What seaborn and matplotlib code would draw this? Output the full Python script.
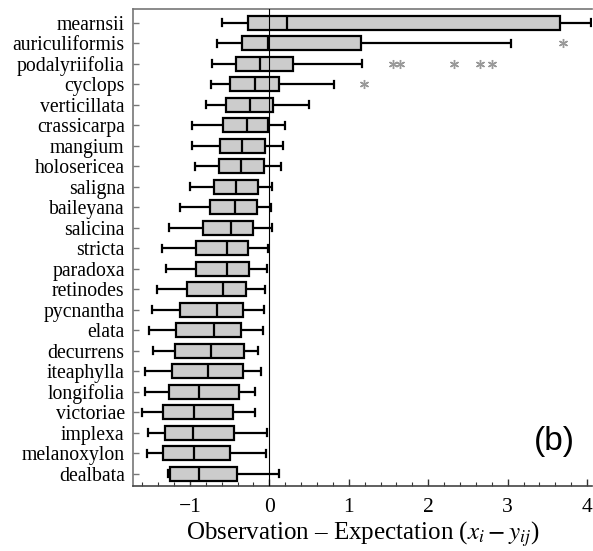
import numpy as np
import pandas as pd
import matplotlib
matplotlib.use("Agg")
import matplotlib.pyplot as plt
from matplotlib.ticker import MultipleLocator
import seaborn as sns

# ---------- data (five-number summaries) ----------
species = ["mearnsii", "auriculiformis", "podalyriifolia", "cyclops", "verticillata",
           "crassicarpa", "mangium", "holosericea", "saligna", "baileyana",
           "salicina", "stricta", "paradoxa", "retinodes", "pycnantha", "elata",
           "decurrens", "iteaphylla", "longifolia", "victoriae", "implexa",
           "melanoxylon", "dealbata"]

whisker_lo = [-0.60, -0.66, -0.72, -0.74, -0.80, -0.975, -0.975, -0.94, -1.00, -1.13,
              -1.27, -1.35, -1.30, -1.42, -1.48, -1.515, -1.47, -1.565, -1.565, -1.60,
              -1.525, -1.54, -1.28]
q1 = [-0.27, -0.35, -0.42, -0.49, -0.54, -0.58, -0.62, -0.635, -0.70, -0.745,
      -0.83, -0.925, -0.93, -1.04, -1.12, -1.18, -1.185, -1.23, -1.26, -1.34,
      -1.31, -1.34, -1.25]
median = [0.22, -0.015, -0.12, -0.18, -0.25, -0.28, -0.34, -0.36, -0.42, -0.43,
          -0.48, -0.53, -0.535, -0.58, -0.66, -0.70, -0.73, -0.77, -0.88, -0.955,
          -0.96, -0.945, -0.88]
q3 = [3.66, 1.15, 0.30, 0.115, 0.05, -0.02, -0.06, -0.065, -0.14, -0.16,
      -0.20, -0.27, -0.26, -0.30, -0.33, -0.355, -0.32, -0.33, -0.38, -0.46,
      -0.44, -0.50, -0.41]
whisker_hi = [4.05, 3.04, 1.17, 0.81, 0.50, 0.195, 0.17, 0.145, 0.035, 0.02,
              0.035, -0.015, -0.03, -0.05, -0.07, -0.08, -0.14, -0.10, -0.18, -0.18,
              -0.035, -0.04, 0.12]
outliers = {"auriculiformis": [3.70],
            "podalyriifolia": [1.56, 1.65, 2.33, 2.65, 2.80],
            "cyclops": [1.19]}

# long-form table whose quartiles / whiskers reproduce the summaries above
k = 10
rows = []
for i, sp in enumerate(species):
    out = outliers.get(sp, [])
    vals = ([whisker_lo[i]] + [q1[i]] * k + [median[i]] * k + [q3[i]] * k
            + [whisker_hi[i]] * (k - len(out)) + out)
    rows += [(sp, v) for v in vals]
df = pd.DataFrame(rows, columns=["species", "value"])

# ---------- plot ----------
plt.rcParams["font.family"] = "Liberation Serif"
plt.rcParams["mathtext.fontset"] = "stix"

fig = plt.figure(figsize=(5.93, 5.51), dpi=100)
ax = fig.add_axes([0.2243, 0.118, 0.7737, 0.8657])

sns.boxplot(data=df, x="value", y="species", order=species, orient="h", ax=ax,
            color="#cccccc", saturation=1, linecolor="black", linewidth=1.6,
            width=0.7, whis=1.5,
            flierprops=dict(marker=(6, 2, 0), markeredgecolor="#999999",
                            markersize=6.5, markeredgewidth=1.0))

ax.axvline(0, color="black", lw=0.8, zorder=5)

ax.set_xlim(-1.717, 4.06)
ax.set_ylim(22.6, -0.67)
ax.xaxis.set_minor_locator(MultipleLocator(0.2))
ax.set_xticks([-1, 0, 1, 2, 3, 4])
ax.set_xticklabels(["\u22121", "0", "1", "2", "3", "4"])

ax.tick_params(axis="x", which="major", direction="in", length=5, width=1,
               color="#333333", labelsize=15.5, pad=9)
ax.tick_params(axis="x", which="minor", direction="in", length=3, width=0.8,
               color="#333333")
ax.tick_params(axis="y", direction="in", length=4, width=1, color="#777777",
               labelsize=14.2, pad=6)

ax.spines["right"].set_visible(False)
for s in ["left", "top"]:
    ax.spines[s].set_color("#777777")
    ax.spines[s].set_linewidth(1.2)
ax.spines["bottom"].set_color("#444444")
ax.spines["bottom"].set_linewidth(1.2)

ax.set_ylabel("")
ax.set_xlabel("Observation \u2013 Expectation ($x_i - y_{ij}$)", fontsize=18,
              labelpad=1)

ax.text(0.919, 0.094, "(b)", transform=ax.transAxes, ha="center", va="center",
        fontsize=24, family="Liberation Sans")

fig.savefig("out.png", dpi=100)
